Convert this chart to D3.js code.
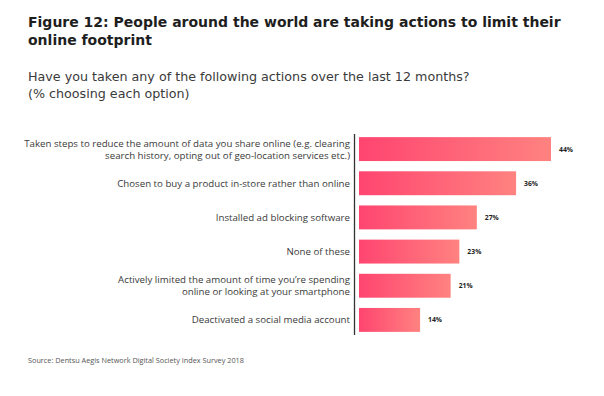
<!DOCTYPE html>
<html>
<head>
<meta charset="utf-8">
<script src="https://cdn.jsdelivr.net/npm/d3@7"></script>
<style>
  html, body { margin: 0; padding: 0; background: #fff; }
  svg { display: block; font-family: "Open Sans", "Noto Sans", sans-serif; }
  .head { font-family: "DejaVu Sans", sans-serif; }
</style>
</head>
<body>
<svg id="chart" width="604" height="396"></svg>
<script>
// data
let actions = [
  ['Taken steps to reduce the amount of data you share online (e.g. clearing', 'search history, opting out of geo-location services etc.)'],
  ['Chosen to  buy a product in-store rather than online'],
  ['Installed ad blocking software'],
  ['None of these'],
  ['Actively limited the amount of time you\u2019re spending', 'online or looking at your smartphone'],
  ['Deactivated a social media account']
]
let shares = [44, 36, 27, 23, 21, 14]
let valueLabels = ['44%', '36%', '27%', '23%', '21%', '14%']

let titleLines = ['Figure 12: People around the world are taking actions to limit their', 'online footprint']
let subtitleLines = ['Have you taken any of the following actions over the last 12 months?', '(% choosing each option)']
let source = 'Source: Dentsu Aegis Network Digital Society Index Survey 2018'

let svg = d3.select('#chart')

let defs = svg.append('defs')
let grad = defs.append('linearGradient')
  .attr('id', 'barGrad')
  .attr('x1', '0%').attr('x2', '100%').attr('y1', '0%').attr('y2', '0%')
grad.append('stop').attr('offset', '0%').attr('stop-color', '#ff4570')
grad.append('stop').attr('offset', '100%').attr('stop-color', '#ff8280')

// title + subtitle, one text element each with a tspan per line
svg.append('text')
  .attr('class', 'head')
  .attr('font-size', 14)
  .attr('font-weight', 700)
  .attr('fill', '#1e1e1e')
  .selectAll('tspan')
  .data(titleLines)
  .join('tspan')
  .attr('x', 28)
  .attr('y', (d, i) => 27 + i * 17.5)
  .text(d => d)

svg.append('text')
  .attr('class', 'head')
  .attr('font-size', 12.7)
  .attr('fill', '#3a3a3a')
  .selectAll('tspan')
  .data(subtitleLines)
  .join('tspan')
  .attr('x', 28)
  .attr('y', (d, i) => 81 + i * 16.5)
  .text(d => d)

let x = d3.scaleLinear().domain([0, 44]).range([359, 551])
let y = d3.scaleBand().domain(d3.range(shares.length)).range([132, 337]).paddingInner(0.3).paddingOuter(0.15)

let rows = svg.append('g').selectAll('g')
  .data(shares)
  .join('g')

rows.append('rect')
  .attr('x', x(0))
  .attr('y', (d, i) => y(i))
  .attr('width', d => x(d) - x(0))
  .attr('height', y.bandwidth())
  .attr('fill', 'url(#barGrad)')

rows.append('text')
  .attr('x', d => x(d) + 8)
  .attr('y', (d, i) => y(i) + y.bandwidth() / 2 + 2.5)
  .attr('font-size', 6.8)
  .attr('font-weight', 700)
  .attr('fill', '#222')
  .text((d, i) => valueLabels[i])

// category labels, right aligned against the axis
rows.each(function(d, i) {
  let lines = actions[i]
  let cy = y(i) + y.bandwidth() / 2
  let lh = 12
  let t = d3.select(this).append('text')
    .attr('text-anchor', 'end')
    .attr('font-size', 9.7)
    .attr('fill', '#3a3a3a')
  lines.forEach(function(line, j) {
    t.append('tspan')
      .attr('x', 350)
      .attr('y', cy + 3.5 + (j - (lines.length - 1) / 2) * lh)
      .text(line)
  })
})

svg.append('line')
  .attr('x1', 354.5).attr('x2', 354.5)
  .attr('y1', 134).attr('y2', 335)
  .attr('stroke', '#333')
  .attr('stroke-width', 1.3)

svg.append('text')
  .attr('x', 28)
  .attr('y', 363)
  .attr('font-size', 7.3)
  .attr('fill', '#555')
  .text(source)
</script>
</body>
</html>
